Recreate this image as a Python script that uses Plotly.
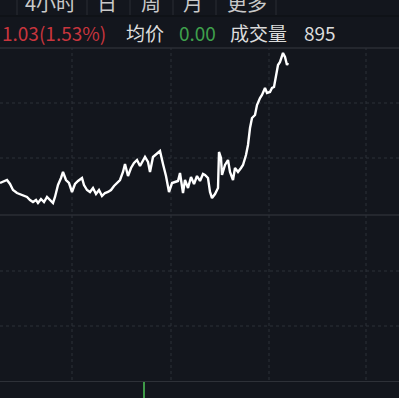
import plotly.graph_objects as go

# ---- data ----
minutes = [0, 3, 7, 10, 13, 17, 20, 24, 27, 30, 33, 36, 38, 41, 44, 47, 50, 53, 55, 58,
           61, 63, 66, 69, 72, 75, 78, 82, 84, 87, 90, 93, 96, 99, 102, 105, 108, 111, 114, 117,
           120, 123, 125, 128, 131, 134, 137, 140, 143, 145, 148, 150, 153, 157, 160, 163, 166, 169, 172, 175,
           178, 180, 183, 185, 188, 191, 194, 197, 200, 203, 205, 208, 210, 212, 215, 218, 219, 221, 222, 225,
           228, 230, 233, 235, 238, 241, 243, 246, 248, 250, 252, 255, 257, 260, 262, 265, 267, 270, 272, 274,
           276, 278, 280, 283, 285, 287, 288]
prices = [67.705, 67.71, 67.72, 67.70, 67.67, 67.655, 67.65, 67.64, 67.635, 67.62,
          67.61, 67.62, 67.605, 67.625, 67.61, 67.635, 67.62, 67.605, 67.635, 67.695,
          67.73, 67.76, 67.72, 67.705, 67.66, 67.70, 67.715, 67.73, 67.695, 67.67,
          67.66, 67.68, 67.65, 67.67, 67.64, 67.655, 67.66, 67.67, 67.69, 67.705,
          67.72, 67.76, 67.80, 67.74, 67.78, 67.805, 67.82, 67.79, 67.815, 67.835,
          67.81, 67.76, 67.835, 67.855, 67.865, 67.80, 67.74, 67.66, 67.705, 67.71,
          67.715, 67.755, 67.655, 67.72, 67.68, 67.735, 67.70, 67.74, 67.715, 67.75,
          67.745, 67.73, 67.66, 67.63, 67.65, 67.68, 67.86, 67.83, 67.745, 67.795,
          67.82, 67.76, 67.72, 67.78, 67.76, 67.78, 67.795, 67.845, 67.895, 67.98,
          68.03, 68.045, 68.095, 68.13, 68.145, 68.18, 68.155, 68.16, 68.18, 68.185,
          68.245, 68.295, 68.31, 68.355, 68.335, 68.295, 68.305]
vol_minutes = [144]
volumes = [895]

tabs = ["4小时", "日", "周", "月", "更多"]
change_text = "1.03(1.53%)"
avg_label, avg_value = "均价", "0.00"
vol_label, vol_value = "成交量", "895"

W, H = 399, 398
BG = "#13161d"
FONT = "Noto Sans CJK SC"

def px(x):
    return x / W

def py(y):
    return 1 - y / H

fig = go.Figure()
fig.add_trace(go.Scatter(x=minutes, y=prices, mode="lines",
                         line=dict(color="#ffffff", width=2.4), hoverinfo="skip"))
fig.add_trace(go.Bar(x=vol_minutes, y=volumes, yaxis="y2", width=1.3,
                     marker=dict(color="#3f9a48", line=dict(width=0)), hoverinfo="skip"))

shapes = []
# horizontal grid lines
for y, dash, col in [(48, "solid", "#363941"), (103, "dot", "#2d3139"), (158, "dot", "#2d3139"),
                     (215, "solid", "#363941"), (271, "dot", "#2d3139"), (326, "dot", "#2d3139"),
                     (382, "solid", "#4a4d55")]:
    shapes.append(dict(type="line", xref="paper", yref="paper", x0=0, x1=1, y0=py(y), y1=py(y),
                       line=dict(color=col, width=1, dash=dash), layer="below"))
# vertical grid lines
for x in [72, 171, 269, 366]:
    shapes.append(dict(type="line", xref="paper", yref="paper", x0=px(x), x1=px(x), y0=0, y1=py(48),
                       line=dict(color="#2d3139", width=1, dash="dot"), layer="below"))
# tab separators and tab row
for x in [17, 87, 130, 173, 216, 276]:
    shapes.append(dict(type="line", xref="paper", yref="paper", x0=px(x), x1=px(x), y0=py(0), y1=py(15),
                       line=dict(color="#2a2d35", width=1), layer="below"))
shapes.append(dict(type="line", xref="paper", yref="paper", x0=0, x1=1, y0=py(16), y1=py(16),
                   line=dict(color="#0d0f13", width=1), layer="below"))

annotations = []
for label, cx in zip(tabs, [50, 107, 151, 193, 247]):
    annotations.append(dict(text=label, xref="paper", yref="paper", x=px(cx), y=py(2),
                            xanchor="center", yanchor="middle", showarrow=False,
                            font=dict(family=FONT, size=20, color="#c9c9c9")))
info = [(change_text, 0, "#c8353d"), (avg_label, 124, "#dcdcdc"), (avg_value, 177, "#3fa04c"),
        (vol_label, 228, "#dcdcdc"), (vol_value, 302, "#dcdcdc")]
for text, x, col in info:
    annotations.append(dict(text=text, xref="paper", yref="paper", x=px(x), y=py(32),
                            xanchor="left", yanchor="middle", showarrow=False,
                            font=dict(family=FONT, size=19, color=col)))

fig.update_layout(
    width=W, height=H, margin=dict(l=0, r=0, t=0, b=0),
    paper_bgcolor=BG, plot_bgcolor=BG, showlegend=False,
    xaxis=dict(range=[0, W], visible=False, fixedrange=True),
    yaxis=dict(range=[66.63, 68.62], visible=False, domain=[0, 1]),
    yaxis2=dict(range=[0, 895], visible=False, domain=[0, 16 / H], anchor="x"),
    shapes=shapes, annotations=annotations,
)
fig.write_html("out.html", config={"displayModeBar": False})
